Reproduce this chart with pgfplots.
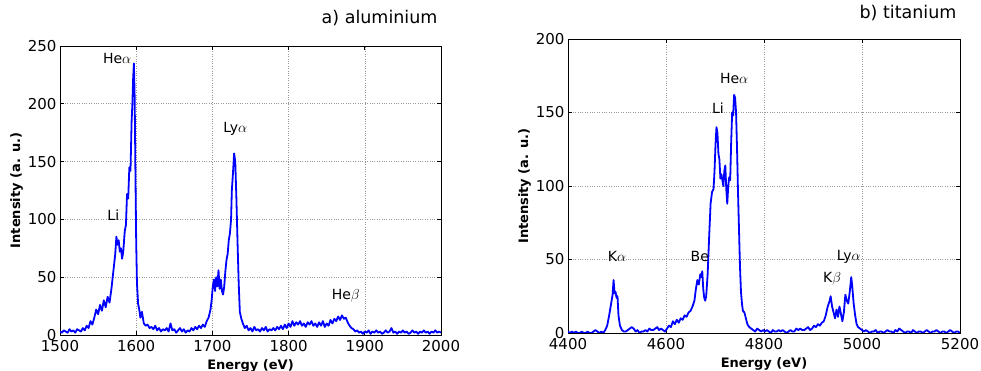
\documentclass[border=0pt]{standalone}
\usepackage{fontspec}
\setmainfont{DejaVu Sans}
\usepackage{pgfplots}
\pgfplotsset{compat=1.18}
\usepackage{pgfplotstable}

\pgfplotstableread{
x y
1500 3
1502.5 2
1505 4
1507.5 3
1510 2
1512.5 5
1515 3
1517.5 4
1520 2
1522.5 5
1525 4
1527.5 3
1530 6
1532.5 4
1535 8
1537.5 6
1540 12
1542.5 9
1545 15
1547.5 22
1550 18
1552.5 26
1555 21
1557.5 30
1560 24
1562.5 33
1565 28
1567.5 40
1570 55
1572.5 70
1574 85
1575.5 78
1577 82
1578.5 72
1580 75
1581.5 66
1583 72
1585 90
1586.5 95
1588 122
1589.5 118
1591 145
1592.5 142
1594 185
1595 200
1596 222
1597 235
1598 205
1599 140
1600 80
1601 45
1602.5 27
1604 22
1605.5 15
1607.5 20
1610 10
1612.5 8
1615 9
1617.5 6
1620 7
1622.5 5
1625 8
1627.5 4
1630 6
1632.5 3
1635 5
1637.5 4
1640 6
1642.5 3
1645 10
1647.5 4
1650 5
1652.5 2
1655 4
1657.5 6
1660 3
1662.5 5
1665 2
1667.5 4
1670 3
1672.5 6
1675 4
1677.5 7
1680 5
1682.5 8
1685 6
1687.5 9
1690 7
1692.5 12
1695 15
1697.5 22
1699 30
1700.5 42
1702 48
1703.5 38
1705 50
1706.5 42
1708 56
1709.5 40
1711 48
1712.5 38
1714 35
1715.5 42
1717 55
1718.5 65
1720 70
1721.5 82
1723 88
1724.5 100
1725.5 125
1727 140
1728.5 157
1730 150
1731.5 118
1733 80
1734.5 45
1736 20
1738 14
1740 10
1742.5 6
1745 8
1747.5 4
1750 6
1752.5 3
1755 7
1757.5 4
1760 5
1762.5 3
1765 6
1767.5 4
1770 7
1772.5 3
1775 5
1777.5 4
1780 6
1782.5 4
1785 7
1787.5 5
1790 8
1792.5 5
1795 9
1797.5 6
1800 10
1802.5 7
1805 12
1807.5 8
1810 11
1812.5 9
1815 12
1817.5 8
1820 10
1822.5 7
1825 11
1827.5 9
1830 12
1832.5 8
1835 10
1837.5 7
1840 11
1842.5 8
1845 12
1847.5 7
1850 10
1852.5 8
1855 13
1857.5 10
1860 14
1862.5 12
1865 16
1867.5 13
1870 17
1872.5 14
1875 15
1877.5 11
1880 8
1882.5 6
1885 5
1887.5 3
1890 4
1892.5 2
1895 3
1897.5 1
1900 3
1902.5 2
1905 4
1907.5 1
1910 3
1912.5 2
1915 4
1917.5 2
1920 3
1922.5 1
1925 2
1927.5 4
1930 2
1932.5 3
1935 6
1937.5 2
1940 3
1942.5 1
1945 3
1947.5 2
1950 4
1952.5 2
1955 3
1957.5 1
1960 2
1962.5 4
1965 2
1967.5 3
1970 1
1972.5 3
1975 2
1977.5 4
1980 2
1982.5 3
1985 1
1987.5 3
1990 2
1992.5 4
1995 2
1997.5 3
2000 2
}\altable

\pgfplotstableread{
x y
4400 1
4404 0
4408 1
4412 0
4416 1
4420 0
4424 0
4428 1
4432 0
4436 0
4440 1
4444 0
4448 0
4452 1
4456 2
4460 1
4464 0
4468 1
4472 0
4476 2
4480 5
4484 12
4487 18
4489 22
4491 26
4493 36
4495 27
4497 28
4499 24
4501 25
4503 12
4506 5
4510 2
4514 1
4518 1
4522 2
4526 3
4530 4
4534 3
4538 1
4542 2
4546 0
4550 1
4554 1
4558 2
4562 1
4566 3
4570 2
4574 2
4578 3
4582 4
4586 2
4590 3
4594 2
4598 1
4602 3
4606 5
4610 4
4614 8
4618 6
4622 9
4626 7
4630 10
4634 9
4638 12
4642 11
4646 14
4650 15
4654 18
4658 22
4661 30
4664 36
4667 33
4670 40
4672 38
4674 42
4676 30
4678 24
4680 22
4682 25
4685 40
4688 65
4691 88
4694 96
4697 98
4699 110
4701 128
4703 140
4705 136
4707 122
4709 118
4711 105
4713 108
4715 104
4717 100
4719 110
4721 114
4723 98
4725 88
4727 100
4729 106
4731 104
4733 130
4735 150
4737 148
4739 162
4741 160
4743 150
4745 125
4747 95
4749 70
4751 45
4753 28
4755 20
4757 15
4760 14
4763 10
4766 6
4770 4
4774 3
4778 2
4782 1
4786 3
4790 2
4794 1
4798 2
4802 1
4806 2
4810 1
4814 0
4818 2
4822 1
4826 1
4830 2
4834 1
4838 2
4842 1
4846 0
4850 1
4854 2
4858 1
4862 1
4866 3
4870 2
4874 3
4878 2
4882 2
4886 3
4890 4
4894 2
4898 3
4902 5
4906 4
4910 6
4914 5
4918 7
4922 8
4926 12
4930 18
4934 22
4936 25
4939 18
4942 14
4945 10
4948 16
4951 11
4954 18
4957 13
4960 8
4963 14
4966 26
4969 22
4972 20
4975 28
4978 38
4980 32
4983 20
4986 12
4989 6
4992 4
4996 3
5000 2
5004 1
5008 2
5012 1
5016 0
5020 1
5024 1
5028 2
5032 0
5036 1
5040 1
5044 0
5048 1
5052 2
5056 1
5060 1
5064 0
5068 2
5072 1
5076 3
5080 2
5084 1
5088 0
5092 1
5096 1
5100 0
5104 2
5108 1
5112 0
5116 1
5120 1
5124 0
5128 1
5132 2
5136 1
5140 0
5144 1
5148 1
5152 2
5156 1
5160 0
5164 1
5168 1
5172 0
5176 1
5180 2
5184 1
5188 0
5192 1
5196 1
5200 0
}\titable

\tikzset{ann/.style={font=\fontsize{14}{14}\selectfont}}
\pgfplotsset{
  spec/.style={
    scale only axis,
    anchor=south west,
    axis line style={black, line width=0.8pt},
    tick align=inside,
    major tick length=4pt,
    tick style={black, line width=0.8pt},
    xtick pos=both, ytick pos=both,
    grid=major,
    grid style={dotted, gray!80, line width=0.6pt},
    ticklabel style={font=\fontsize{15}{15}\selectfont},
    xticklabel style={yshift=-2pt},
    /pgf/number format/assume math mode=true,
    /pgf/number format/1000 sep={},
    scaled ticks=false,
    xlabel={Energy (eV)},
    ylabel={Intensity (a. u.)},
    label style={font=\fontsize{13}{13}\selectfont\bfseries},
    xlabel style={yshift=-1pt},
    ylabel style={yshift=-2pt},
    title style={font=\fontsize{17.5}{17.5}\selectfont, at={(1,1)}, anchor=base east},
  },
}

\begin{document}
\begin{tikzpicture}[x=1pt,y=1pt]
\useasboundingbox (0,0) rectangle (981,371);
\begin{axis}[spec,
  at={(60pt,36pt)}, width=381pt, height=289pt,
  xmin=1500, xmax=2000, ymin=0, ymax=250,
  xtick={1500,1600,...,2000}, ytick={0,50,...,250},
  title={a) aluminium}, title style={yshift=16pt}]
\addplot[blue, line width=1.8pt, line join=round] table[x=x,y=y] {\altable};
\node[ann] at (axis cs:1575,239) {He$\alpha$};
\node[ann] at (axis cs:1570,104) {Li};
\node[ann] at (axis cs:1730,178) {Ly$\alpha$};
\node[ann] at (axis cs:1875,34) {He$\beta$};
\end{axis}
\begin{axis}[spec,
  at={(568pt,38pt)}, width=392pt, height=294pt,
  xmin=4400, xmax=5200, ymin=0, ymax=200,
  xtick={4400,4600,...,5200}, ytick={0,50,...,200},
  title={b) titanium}, title style={yshift=14.5pt}]
\addplot[blue, line width=1.8pt, line join=round] table[x=x,y=y] {\titable};
\node[ann] at (axis cs:4500,52) {K$\alpha$};
\node[ann] at (axis cs:4669,52) {Be};
\node[ann] at (axis cs:4706,153) {Li};
\node[ann] at (axis cs:4739,173) {He$\alpha$};
\node[ann] at (axis cs:4939,37) {K$\beta$};
\node[ann] at (axis cs:4973,52) {Ly$\alpha$};
\end{axis}
\end{tikzpicture}
\end{document}
